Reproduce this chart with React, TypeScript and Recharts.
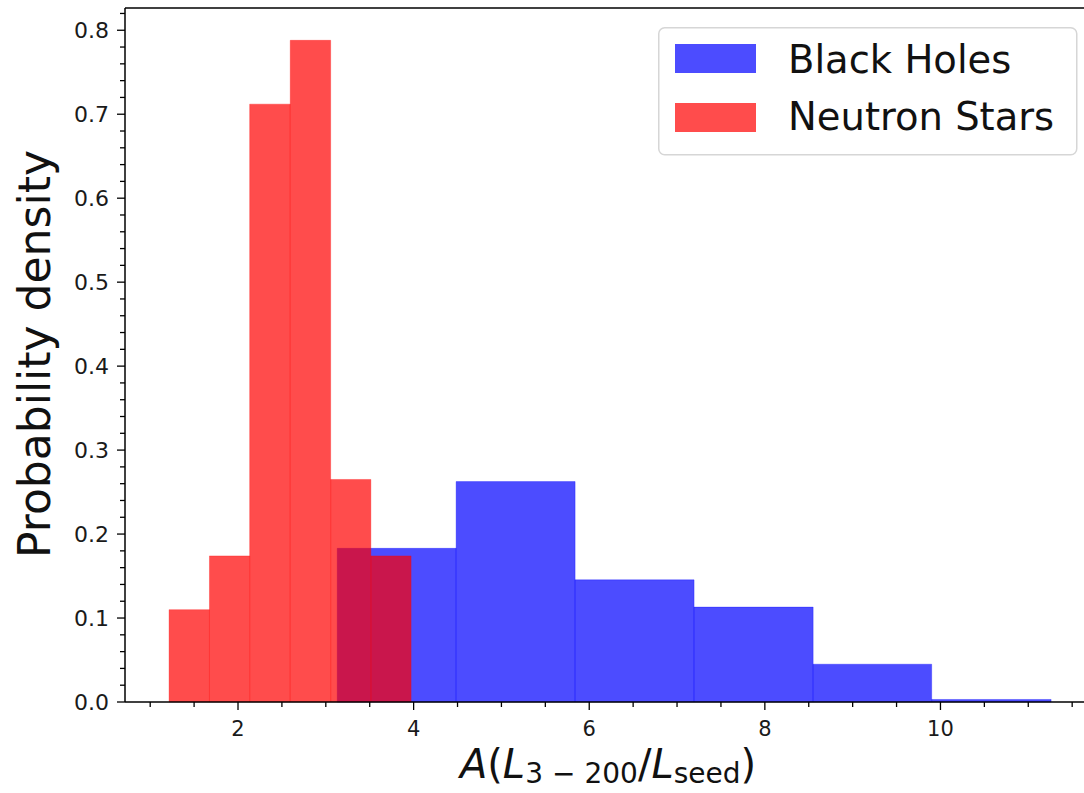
import React from "react";
import { ComposedChart, XAxis, YAxis, ReferenceArea, ReferenceLine, Legend, Line } from "recharts";

// histogram bins (density normalised)
const BH_EDGES = [3.13, 4.484, 5.839, 7.194, 8.55, 9.9, 11.26];
const BH_DENSITY = [0.183, 0.2625, 0.1455, 0.113, 0.045, 0.003];
const NS_EDGES = [1.215, 1.675, 2.133, 2.595, 3.055, 3.513, 3.971];
const NS_DENSITY = [0.11, 0.174, 0.712, 0.788, 0.265, 0.174];

const SERIES = [
  { name: "Black Holes", color: "#0000ff", edges: BH_EDGES, density: BH_DENSITY },
  { name: "Neutron Stars", color: "#ff0000", edges: NS_EDGES, density: NS_DENSITY },
];

const X_MAJOR = [2, 4, 6, 8, 10];
const X_TICKS = [1, 1.5, 2, 2.5, 3, 3.5, 4, 4.5, 5, 5.5, 6, 6.5, 7, 7.5, 8, 8.5, 9, 9.5, 10, 10.5, 11, 11.5];
const Y_MAJOR = [0, 0.1, 0.2, 0.3, 0.4, 0.5, 0.6, 0.7, 0.8];
const Y_TICKS = [
  0, 0.02, 0.04, 0.06, 0.08, 0.1, 0.12, 0.14, 0.16, 0.18, 0.2, 0.22, 0.24, 0.26, 0.28, 0.3,
  0.32, 0.34, 0.36, 0.38, 0.4, 0.42, 0.44, 0.46, 0.48, 0.5, 0.52, 0.54, 0.56, 0.58, 0.6,
  0.62, 0.64, 0.66, 0.68, 0.7, 0.72, 0.74, 0.76, 0.78, 0.8, 0.82,
];

const X_DOMAIN = [0.713, 11.76];
const Y_DOMAIN = [0, 0.8265];

// one row per bin edge so the x axis has something to scale
const EDGE_ROWS = [...NS_EDGES, ...BH_EDGES].sort((a, b) => a - b).map((x) => ({ x }));

const FONT = "'DejaVu Sans', sans-serif";
const TICK_COLOR = "#1a1a1a";

const isIn = (list: number[], v: number) => list.some((m) => Math.abs(m - v) < 1e-6);

function XTick({ x, y, payload }: any) {
  const major = isIn(X_MAJOR, payload.value);
  return (
    <g>
      <line x1={x} x2={x} y1={y} y2={y + (major ? 8 : 5)} stroke="#000" strokeWidth={1.3} />
      {major && (
        <text x={x} y={y + 34} textAnchor="middle" fontFamily={FONT} fontSize={21} fill={TICK_COLOR}>
          {payload.value}
        </text>
      )}
    </g>
  );
}

function YTick({ x, y, payload }: any) {
  const major = isIn(Y_MAJOR, payload.value);
  return (
    <g>
      <line x1={x} x2={x - (major ? 8 : 5)} y1={y} y2={y} stroke="#000" strokeWidth={1.3} />
      {major && (
        <text x={x - 16} y={y + 8} textAnchor="end" fontFamily={FONT} fontSize={22} fill={TICK_COLOR}>
          {payload.value.toFixed(1)}
        </text>
      )}
    </g>
  );
}

function LegendBox() {
  return (
    <svg width={420} height={130} style={{ display: "block" }}>
      <rect x={0.75} y={0.75} width={418} height={127} rx={6} fill="rgba(255,255,255,0.8)" stroke="#d6d6d6" strokeWidth={1.5} />
      {SERIES.map((s, i) => (
        <g key={s.name}>
          <rect x={17} y={17 + i * 59} width={81} height={29} fill={s.color} fillOpacity={0.7} />
          <text x={130} y={46 + i * 57} fontFamily={FONT} fontSize={38.5} fill="#111">
            {s.name}
          </text>
        </g>
      ))}
    </svg>
  );
}

function XLabel() {
  return (
    <text x={608} y={778} textAnchor="middle" fontFamily={FONT} fontSize={40} fill="#111">
      <tspan fontStyle="italic">A</tspan>
      <tspan>(</tspan>
      <tspan fontStyle="italic">L</tspan>
      <tspan fontSize={28} dy={5}>3</tspan>
      <tspan fontSize={28} dx={9}>−</tspan>
      <tspan fontSize={28} dx={9}>200</tspan>
      <tspan dy={-5}>/</tspan>
      <tspan fontStyle="italic">L</tspan>
      <tspan fontSize={28} dy={5}>seed</tspan>
      <tspan dy={-5}>)</tspan>
    </text>
  );
}

function YLabel() {
  return (
    <text
      x={50}
      y={354}
      transform="rotate(-90 50 354)"
      textAnchor="middle"
      fontFamily={FONT}
      fontSize={44}
      fill="#111"
    >
      Probability density
    </text>
  );
}

export default function App() {
  return (
    <div style={{ position: "absolute", left: 0, top: 0, width: 1084, height: 793, overflow: "hidden", background: "#fff" }}>
      <ComposedChart data={EDGE_ROWS} width={1100} height={793} margin={{ top: 8, right: 5, bottom: 0, left: 0 }}>
        <XAxis
          dataKey="x"
          type="number"
          domain={X_DOMAIN}
          allowDataOverflow
          ticks={X_TICKS}
          interval={0}
          height={91}
          tickSize={0}
          tickMargin={0}
          tickLine={false}
          tick={<XTick />}
          axisLine={{ stroke: "#000", strokeWidth: 1.5 }}
          label={<XLabel />}
        />
        <YAxis
          type="number"
          domain={Y_DOMAIN}
          allowDataOverflow
          ticks={Y_TICKS}
          interval={0}
          width={125}
          tickSize={0}
          tickMargin={0}
          tickLine={false}
          tick={<YTick />}
          axisLine={{ stroke: "#000", strokeWidth: 1.5 }}
          label={<YLabel />}
        />
        <Line dataKey="x" stroke="none" dot={false} activeDot={false} legendType="none" isAnimationActive={false} />
        {SERIES.map((s) =>
          s.density.map((d, i) => (
            <ReferenceArea
              key={`${s.name}-${i}`}
              x1={s.edges[i]}
              x2={s.edges[i + 1]}
              y1={0}
              y2={d}
              fill={s.color}
              fillOpacity={0.7}
              stroke={s.color}
              strokeOpacity={0.3}
              strokeWidth={1}
              ifOverflow="visible"
            />
          ))
        )}
        {/* top spine */}
        <ReferenceLine y={Y_DOMAIN[1]} stroke="#000" strokeWidth={1.5} ifOverflow="visible" />
        <Legend
          layout="vertical"
          align="center"
          verticalAlign="middle"
          wrapperStyle={{ left: 658, top: 27, width: 420, height: 130 }}
          content={() => <LegendBox />}
        />
      </ComposedChart>
    </div>
  );
}
